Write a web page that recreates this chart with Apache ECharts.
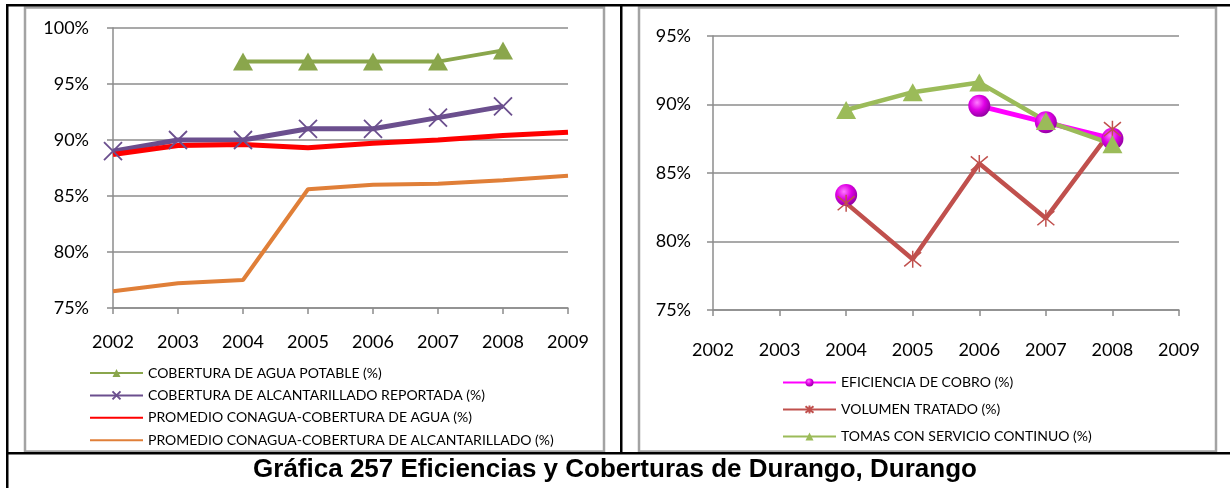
<!DOCTYPE html>
<html>
<head>
<meta charset="utf-8">
<script src="https://cdn.jsdelivr.net/npm/echarts@6/dist/echarts.min.js"></script>
<style>
html,body{margin:0;padding:0;background:#fff;}
#c{width:1230px;height:488px;}
</style>
</head>
<body>
<div id="c"></div>
<script>
// ---- data ----
const years = ['2002','2003','2004','2005','2006','2007','2008','2009'];
const leftYTicks = [75, 80, 85, 90, 95, 100];
const rightYTicks = [75, 80, 85, 90, 95];

const leftNames = [
  'COBERTURA DE AGUA POTABLE (%)',
  'COBERTURA DE ALCANTARILLADO REPORTADA (%)',
  'PROMEDIO CONAGUA-COBERTURA DE AGUA (%)',
  'PROMEDIO CONAGUA-COBERTURA DE ALCANTARILLADO (%)'
];
const aguaPotable    = ['-', '-', 97, 97, 97, 97, 98, '-'];
const alcantarillado = [89, 90, 90, 91, 91, 92, 93, '-'];
const promAgua       = [88.7, 89.5, 89.6, 89.3, 89.7, 90.0, 90.4, 90.7];
const promAlc        = [76.5, 77.2, 77.5, 85.6, 86.0, 86.1, 86.4, 86.8];

const rightNames = [
  'EFICIENCIA DE COBRO (%)',
  'VOLUMEN TRATADO (%)',
  'TOMAS CON SERVICIO CONTINUO (%)'
];
const eficiencia = ['-', '-', 83.4, '-', 89.9, 88.7, 87.5, '-'];
const volumen    = ['-', '-', 82.8, 78.7, 85.7, 81.7, 88.2, '-'];
const tomas      = ['-', '-', 89.6, 90.9, 91.6, 88.8, 87.1, '-'];

const titleText = 'Gráfica 257 Eficiencias y Coberturas de Durango, Durango';

// ---- styles ----
const FONT = 'Lato';
const gridGray = '#8c8c8c';

function xAxisCfg(idx, margin) {
  return {
    type: 'category', gridIndex: idx, data: years, boundaryGap: false,
    axisLine: {show: true, lineStyle: {color: gridGray, width: 1.5}},
    axisTick: {show: true, alignWithLabel: true, length: 6, lineStyle: {color: gridGray, width: 1.5}},
    axisLabel: {color: '#000', fontFamily: FONT, fontSize: 18, margin: margin, interval: 0},
    splitLine: {show: false}
  };
}
function yAxisCfg(idx, ticks, margin) {
  return {
    type: 'value', gridIndex: idx,
    min: ticks[0], max: ticks[ticks.length - 1], interval: 5,
    axisLine: {show: true, lineStyle: {color: gridGray, width: 1.5}},
    axisTick: {show: true, length: 6, lineStyle: {color: gridGray, width: 1.5}},
    axisLabel: {color: '#000', fontFamily: FONT, fontSize: 18, margin: margin, formatter: '{value}%'},
    splitLine: {show: true, lineStyle: {color: gridGray, width: 1.5}}
  };
}

const xPath = 'path://M0,0L10,10M10,0L0,10';
const starPath = 'path://M0,0L10,10M10,0L0,10M5,-1L5,11';

const sphere = {
  type: 'radial', x: 0.4, y: 0.35, r: 0.75,
  colorStops: [
    {offset: 0, color: '#ff7cff'},
    {offset: 0.45, color: '#e000e6'},
    {offset: 1, color: '#7e0090'}
  ]
};

const legendText = {fontFamily: FONT, fontSize: 14, color: '#000'};
const hiddenSym = {color: 'rgba(0,0,0,0)', borderWidth: 0, opacity: 0};

const chart = echarts.init(document.getElementById('c'), null, {renderer: 'canvas'});
chart.setOption({
  backgroundColor: '#fff',
  animation: false,
  grid: [
    {left: 113, top: 28, width: 455, height: 280, containLabel: false},
    {left: 713, top: 36, width: 466, height: 274, containLabel: false}
  ],
  xAxis: [xAxisCfg(0, 25), xAxisCfg(1, 31)],
  yAxis: [yAxisCfg(0, leftYTicks, 24), yAxisCfg(1, rightYTicks, 22)],
  legend: [
    {
      data: [
        {name: leftNames[0]},
        {name: leftNames[1]},
        {name: leftNames[2], itemStyle: hiddenSym},
        {name: leftNames[3], itemStyle: hiddenSym}
      ],
      orient: 'vertical', left: 89, top: 366, padding: 0,
      itemWidth: 53, itemHeight: 10, itemGap: 8.4,
      textStyle: legendText
    },
    {
      data: rightNames, orient: 'vertical', left: 782, top: 375.5, padding: 0,
      itemWidth: 53, itemHeight: 10, itemGap: 13,
      textStyle: legendText
    }
  ],
  series: [
    {
      name: leftNames[0], type: 'line', xAxisIndex: 0, yAxisIndex: 0, data: aguaPotable,
      symbol: 'triangle', symbolSize: [20, 18],
      lineStyle: {color: '#8aa64c', width: 4},
      itemStyle: {color: '#8aa64c'}
    },
    {
      name: leftNames[1], type: 'line', xAxisIndex: 0, yAxisIndex: 0, data: alcantarillado,
      symbol: xPath, symbolSize: 18,
      lineStyle: {color: '#6b4f8e', width: 5},
      itemStyle: {color: 'rgba(0,0,0,0)', borderColor: '#6b4f8e', borderWidth: 1.8}
    },
    {
      name: leftNames[2], type: 'line', xAxisIndex: 0, yAxisIndex: 0, data: promAgua,
      symbol: 'none', lineStyle: {color: '#ff0000', width: 5},
      itemStyle: {color: '#ff0000'}
    },
    {
      name: leftNames[3], type: 'line', xAxisIndex: 0, yAxisIndex: 0, data: promAlc,
      symbol: 'none', lineStyle: {color: '#e07f38', width: 4},
      itemStyle: {color: '#e07f38'}
    },
    {
      name: rightNames[0], type: 'line', xAxisIndex: 1, yAxisIndex: 1, data: eficiencia,
      symbol: 'circle', symbolSize: 22,
      lineStyle: {color: '#ff00ff', width: 5},
      itemStyle: {color: sphere}
    },
    {
      name: rightNames[1], type: 'line', xAxisIndex: 1, yAxisIndex: 1, data: volumen,
      symbol: starPath, symbolSize: 17,
      lineStyle: {color: '#c0504d', width: 4.5},
      itemStyle: {color: 'rgba(0,0,0,0)', borderColor: '#c0504d', borderWidth: 1.5}
    },
    {
      name: rightNames[2], type: 'line', xAxisIndex: 1, yAxisIndex: 1, data: tomas,
      symbol: 'triangle', symbolSize: [20, 18],
      lineStyle: {color: '#9bbb59', width: 4.5},
      itemStyle: {color: '#9bbb59'}
    }
  ],
  graphic: [
    // inner gray chart frames
    {type: 'rect', z: -10, shape: {x: 25, y: 7.5, width: 579, height: 444}, style: {fill: 'none', stroke: '#a3a3a3', lineWidth: 2.5}},
    {type: 'rect', z: -10, shape: {x: 639, y: 7.5, width: 577, height: 444}, style: {fill: 'none', stroke: '#a3a3a3', lineWidth: 2.5}},
    // black outer table lines
    {type: 'rect', z: 10, shape: {x: 6, y: 4, width: 1224, height: 2.5}, style: {fill: '#000'}},
    {type: 'rect', z: 10, shape: {x: 6, y: 4, width: 2.5, height: 484}, style: {fill: '#000'}},
    {type: 'rect', z: 10, shape: {x: 620, y: 4, width: 2.5, height: 450}, style: {fill: '#000'}},
    {type: 'rect', z: 10, shape: {x: 6, y: 452, width: 1224, height: 2.5}, style: {fill: '#000'}},
    {
      type: 'text', z: 10, x: 615, y: 470,
      style: {text: titleText, font: 'bold 26px "Liberation Sans", Arial, sans-serif', fill: '#000', textAlign: 'center', textVerticalAlign: 'middle'}
    }
  ]
});
</script>
</body>
</html>
